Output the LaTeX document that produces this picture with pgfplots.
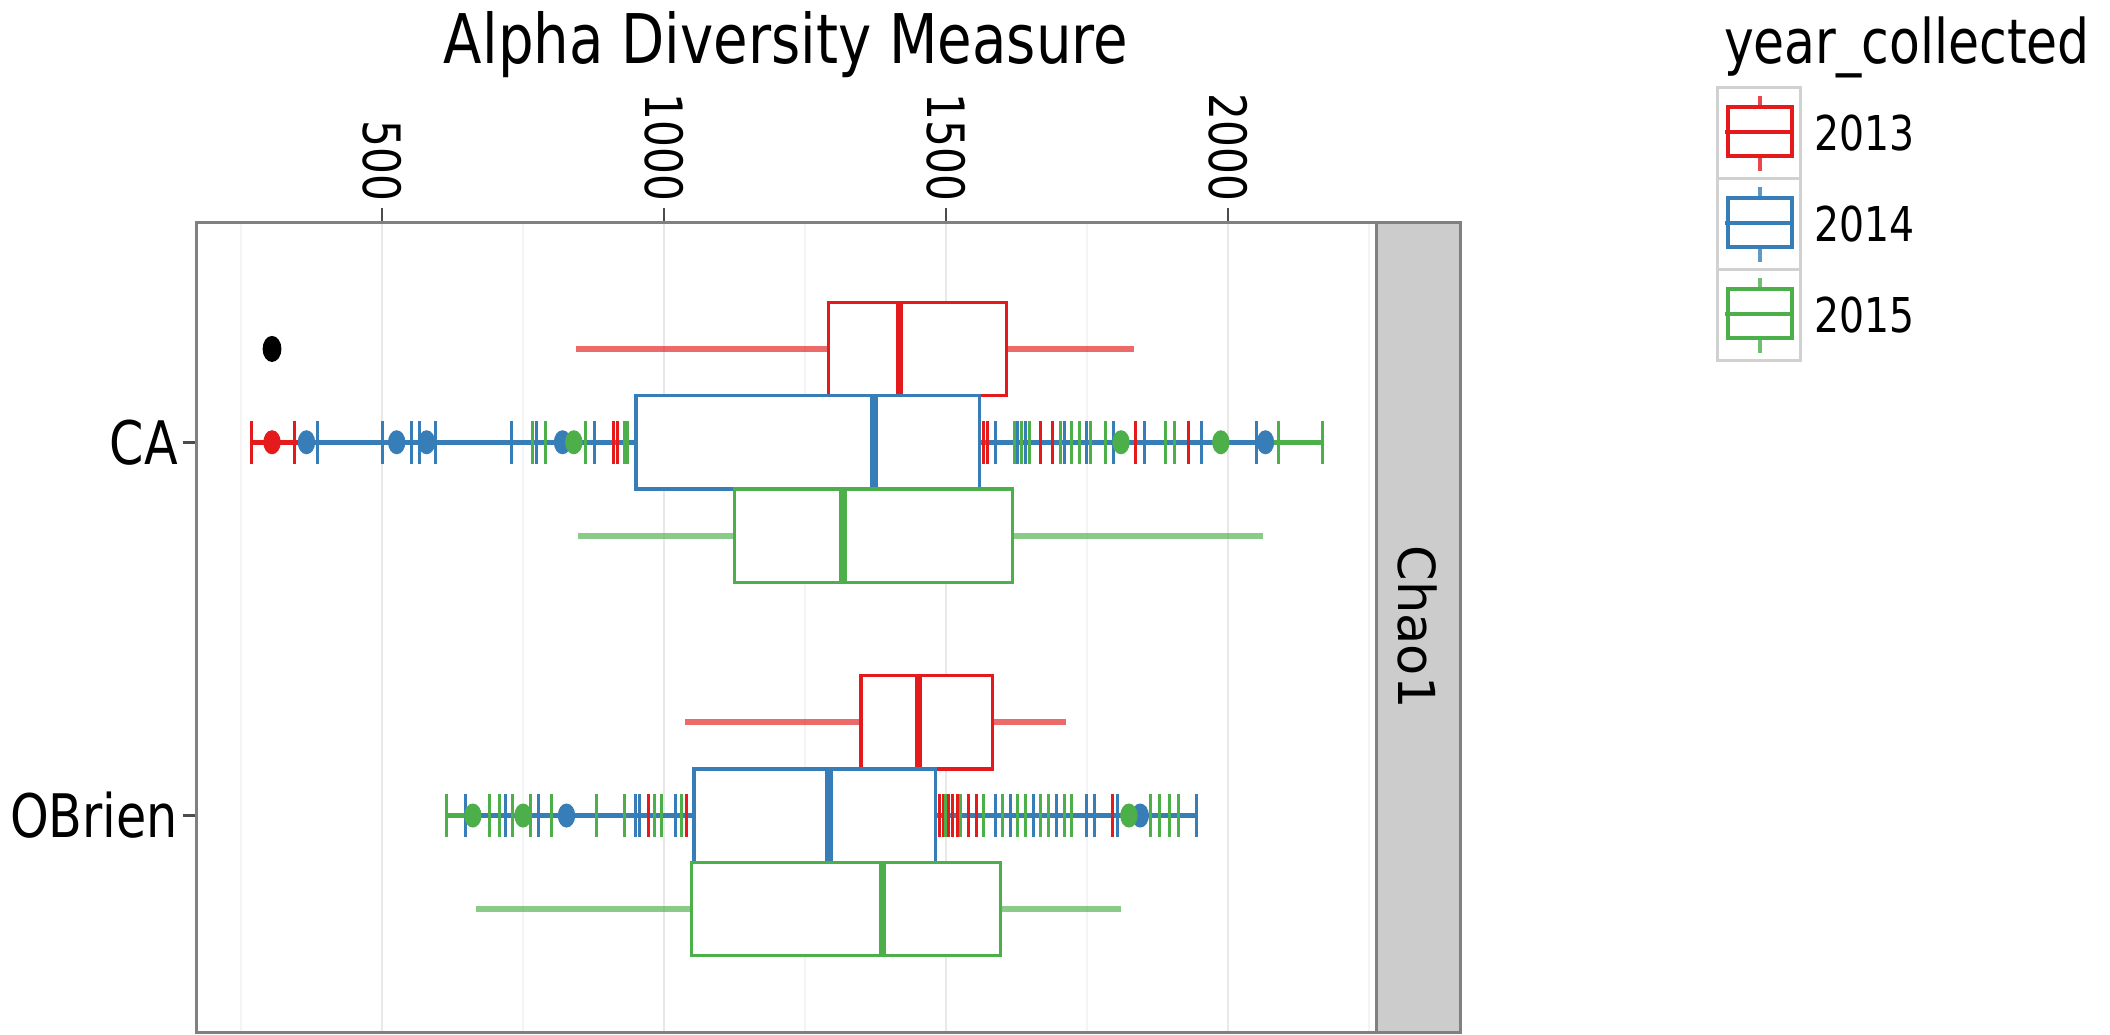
\documentclass[border=0pt]{standalone}
\usepackage{pgfplots}
\pgfplotsset{compat=1.18}
\usepgfplotslibrary{statistics}
\usepackage{fontspec}
\setmainfont{DejaVu Sans}[FakeStretch=0.82]
\newfontfamily\stripfont{DejaVu Sans}
\definecolor{c13}{HTML}{E41A1C}
\definecolor{c14}{HTML}{377EB8}
\definecolor{c15}{HTML}{4DAF4A}
\begin{document}
\begin{tikzpicture}
\path[use as bounding box] (0pt,0pt) rectangle (422pt,-206.8pt);
\begin{axis}[
  at={(39.4pt,-44.4pt)}, anchor=north west,
  scale only axis, width=235.8pt, height=162pt,
  xmin=172, xmax=2262, ymin=0.41, ymax=2.58, y dir=reverse,
  xtick={500,1000,1500,2000}, xticklabels={500,1000,1500,2000},
  minor xtick={250,750,1250,1750,2250},
  ytick={1,2}, yticklabels={CA,OBrien},
  xtick pos=right, xticklabel pos=right,
  ytick pos=left, yticklabel pos=left,
  tick align=outside, major tick length=2.8pt, minor tick length=0pt,
  xmajorgrids, xminorgrids,
  major grid style={gray!18, line width=0.4pt},
  minor grid style={gray!9, line width=0.4pt},
  axis line style={black!50, line width=0.6pt},
  every tick/.style={black!70, line width=0.5pt},
  xticklabel style={rotate=-90, anchor=east, inner sep=1.2pt, font=\fontsize{10.3}{12}\selectfont},
  yticklabel style={inner sep=0.8pt, font=\fontsize{12}{14}\selectfont},
  boxplot/every box/.style={fill=white},
  boxplot/every median/.style={line width=1.5pt},
  boxplot/every whisker/.style={line width=1.2pt, draw opacity=0.65},
]
% ---- CA centre lines and points (y=1)
\addplot[c15, line width=1.1pt] coordinates {(766,1) (2167,1)};
\addplot[c13, line width=1.1pt] coordinates {(268,1) (1930,1)};
\addplot[c14, line width=1.1pt] coordinates {(366,1) (2066,1)};
\addplot[only marks, mark=|, mark size=4.3pt, c13, mark options={line width=0.6pt}] coordinates {
(268,1) (345,1) (911,1) (918,1) (1566,1) (1573,1) (1668,1) (1688,1) (1835,1) (1930,1)};
\addplot[only marks, mark=|, mark size=4.3pt, c14, mark options={line width=0.6pt}] coordinates {
(386,1) (501,1) (552,1) (566,1) (595,1) (729,1) (773,1) (789,1) (877,1) (1587,1) (1627,1) (1641,1) (1709,1) (1749,1) (1797,1) (1851,1) (1953,1) (2051,1)};
\addplot[only marks, mark=|, mark size=4.3pt, c15, mark options={line width=0.6pt}] coordinates {
(766,1) (790,1) (861,1) (929,1) (935,1) (1621,1) (1634,1) (1648,1) (1702,1) (1722,1) (1736,1) (1756,1) (1783,1) (1888,1) (1905,1) (2089,1) (2167,1)};
\addplot[only marks, mark=*, mark size=2.2pt, c13, mark options={xscale=0.7}] coordinates {(305,1)};
\addplot[only marks, mark=*, mark size=2.2pt, c14, mark options={xscale=0.7}] coordinates {(366,1) (526,1) (579,1) (820,1) (2066,1)};
\addplot[only marks, mark=*, mark size=2.2pt, c15, mark options={xscale=0.7}] coordinates {(840,1) (1810,1) (1987,1)};
% ---- OBrien centre lines and points (y=2)
\addplot[c15, line width=1.1pt] coordinates {(614,2) (1912,2)};
\addplot[c13, line width=1.1pt] coordinates {(972,2) (1794,2)};
\addplot[c14, line width=1.1pt] coordinates {(648,2) (1943,2)};
\addplot[only marks, mark=|, mark size=4.3pt, c13, mark options={line width=0.6pt}] coordinates {
(972,2) (1040,2) (1489,2) (1495,2) (1505,2) (1512,2) (1520,2) (1539,2) (1553,2) (1794,2)};
\addplot[only marks, mark=|, mark size=4.3pt, c14, mark options={line width=0.6pt}] coordinates {
(648,2) (718,2) (777,2) (949,2) (956,2) (1021,2) (1587,2) (1614,2) (1654,2) (1695,2) (1749,2) (1763,2) (1804,2) (1943,2)};
\addplot[only marks, mark=|, mark size=4.3pt, c15, mark options={line width=0.6pt}] coordinates {
(614,2) (691,2) (709,2) (732,2) (763,2) (800,2) (881,2) (929,2) (983,2) (996,2) (1030,2) (1498,2) (1526,2) (1566,2) (1600,2) (1627,2) (1641,2) (1668,2) (1682,2) (1709,2) (1722,2) (1862,2) (1878,2) (1896,2) (1912,2)};
\addplot[only marks, mark=*, mark size=2.2pt, c14, mark options={xscale=0.7}] coordinates {(827,2) (1844,2)};
\addplot[only marks, mark=*, mark size=2.2pt, c15, mark options={xscale=0.7}] coordinates {(661,2) (750,2) (1824,2)};
% ---- boxes
\addplot[c13, line width=0.65pt, fill=white, boxplot prepared={lower whisker=844, lower quartile=1292, median=1417, upper quartile=1607, upper whisker=1833, draw position=0.75, box extend=0.25, whisker extend=0}] coordinates {};
\addplot[c14, line width=0.65pt, fill=white, boxplot prepared={lower whisker=950, lower quartile=950, median=1372, upper quartile=1559, upper whisker=1559, draw position=1, box extend=0.25, whisker extend=0}] coordinates {};
\addplot[c15, line width=0.65pt, fill=white, boxplot prepared={lower whisker=847, lower quartile=1125, median=1317, upper quartile=1618, upper whisker=2061, draw position=1.25, box extend=0.25, whisker extend=0}] coordinates {};
\addplot[c13, line width=0.65pt, fill=white, boxplot prepared={lower whisker=1037, lower quartile=1349, median=1451, upper quartile=1582, upper whisker=1713, draw position=1.75, box extend=0.25, whisker extend=0}] coordinates {};
\addplot[c14, line width=0.65pt, fill=white, boxplot prepared={lower whisker=1053, lower quartile=1053, median=1292, upper quartile=1481, upper whisker=1481, draw position=2, box extend=0.25, whisker extend=0}] coordinates {};
\addplot[c15, line width=0.65pt, fill=white, boxplot prepared={lower whisker=667, lower quartile=1048, median=1387, upper quartile=1596, upper whisker=1810, draw position=2.25, box extend=0.25, whisker extend=0}] coordinates {};
\addplot[only marks, mark=*, mark size=2.4pt, black, mark options={xscale=0.7}] coordinates {(305,0.75)};
\end{axis}
\begin{scope}[x=0.2pt,y=-0.2pt]
% strip
\fill[black!20] (1376,222) rectangle (1460,1032);
\draw[black!50, line width=0.6pt] (1376,222) rectangle (1460,1032);
\node[rotate=-90, font=\stripfont\fontsize{10.2}{12}\selectfont] at (1418,627) {Chao1};
% title
\node[anchor=base, font=\fontsize{13.7}{16}\selectfont] at (786,63) {Alpha Diversity Measure};
% legend
\node[anchor=base west, inner sep=0pt, font=\fontsize{12.3}{14}\selectfont] at (1723,63) {year\_collected};
\foreach \T/\c/\lab in {87/c13/2013, 178/c14/2014, 269/c15/2015}{
  \draw[black!18, fill=white, line width=0.6pt] (1717,\T) rectangle (1800,\T+91);
  \draw[\c, line width=0.8pt, draw opacity=0.8] (1760,\T+9) -- (1760,\T+20) (1760,\T+69) -- (1760,\T+84);
  \draw[\c, line width=0.8pt] (1728,\T+20) rectangle (1792,\T+69);
  \draw[\c, line width=0.8pt] (1725,\T+45) -- (1792,\T+45);
  \node[anchor=west, inner sep=0pt, font=\fontsize{9.6}{11}\selectfont] at (1813,\T+46) {\lab};
}
\end{scope}
\end{tikzpicture}
\end{document}
